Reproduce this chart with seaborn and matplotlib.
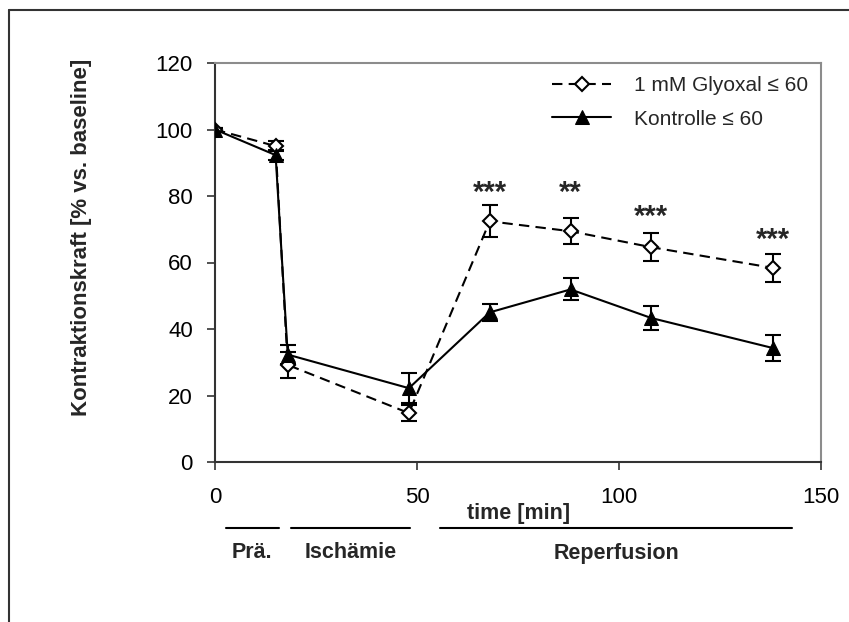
import numpy as np
import pandas as pd
import matplotlib
matplotlib.use("Agg")
import matplotlib.pyplot as plt
import matplotlib.transforms as mtransforms
from matplotlib.lines import Line2D
import seaborn as sns

# ---------------- data ----------------
time_min = [0, 15, 18, 48, 68, 88, 108, 138]
glyoxal = [100, 95.0, 29.2, 14.7, 72.4, 69.4, 64.6, 58.4]
glyoxal_err = [0.5, 1.6, 3.8, 2.5, 4.8, 3.9, 4.2, 4.2]
kontrolle = [100, 92.3, 32.3, 22.2, 45.0, 51.9, 43.3, 34.3]
kontrolle_err = [0.5, 1.5, 2.8, 4.5, 2.6, 3.3, 3.7, 3.8]

series_labels = ["1 mM Glyoxal \u2264 60", "Kontrolle \u2264 60"]

sig_times = [68, 88, 108, 138]
sig_labels = ["***", "**", "***", "***"]
sig_y = [81.0, 81.0, 73.8, 66.7]

phase_labels = ["Pr\u00e4.", "Isch\u00e4mie", "Reperfusion"]
phase_start = [2.7, 18.8, 55.8]
phase_end = [15.8, 48.2, 142.8]

x_ticks = [0, 50, 100, 150]
y_ticks = [0, 20, 40, 60, 80, 100, 120]

# ---------------- style ----------------
sns.set_theme(style="white")
plt.rcParams["font.family"] = ["Liberation Sans", "DejaVu Sans"]

W, H = 849, 622
fig = plt.figure(figsize=(W / 100, H / 100), dpi=100)
fig.patch.set_facecolor("white")

ax_l, ax_r, ax_t, ax_b = 215, 821, 63, 462
ax = fig.add_axes([ax_l / W, 1 - ax_b / H, (ax_r - ax_l) / W, (ax_b - ax_t) / H])
ax.set_facecolor("white")

df_g = pd.DataFrame({"time": time_min, "value": glyoxal})
df_k = pd.DataFrame({"time": time_min, "value": kontrolle})

lw = 1.5
# error bars (below markers)
ax.errorbar(time_min, glyoxal, yerr=glyoxal_err, fmt="none", ecolor="black",
            elinewidth=lw, capsize=5.5, capthick=lw, zorder=2)
ax.errorbar(time_min, kontrolle, yerr=kontrolle_err, fmt="none", ecolor="black",
            elinewidth=lw, capsize=5.5, capthick=lw, zorder=2)

sns.lineplot(data=df_g, x="time", y="value", ax=ax, color="black", linewidth=lw,
             linestyle=(0, (5, 3)), marker="D", markersize=7,
             markerfacecolor="white", markeredgecolor="black", markeredgewidth=1.5,
             label=series_labels[0], zorder=3)
sns.lineplot(data=df_k, x="time", y="value", ax=ax, color="black", linewidth=lw,
             linestyle="-", marker="^", markersize=10,
             markerfacecolor="black", markeredgecolor="black",
             label=series_labels[1], zorder=4)

ax.set_xlim(0, 150)
ax.set_ylim(0, 120)
ax.set_xticks(x_ticks)
ax.set_yticks(y_ticks)
ax.set_xlabel("")
ax.set_ylabel("")
ax.tick_params(axis="both", which="major", direction="out", length=6, width=1.2,
               color="#333333", labelsize=16, labelcolor="black", bottom=True, left=True)
ax.tick_params(axis="x", pad=12)
ax.tick_params(axis="y", pad=10)

for side in ["left", "bottom"]:
    ax.spines[side].set_color("#333333")
    ax.spines[side].set_linewidth(1.5)
for side in ["top", "right"]:
    ax.spines[side].set_color("#8c8c8c")
    ax.spines[side].set_linewidth(1.5)
ax.grid(False)

# significance stars
for t, lab, y in zip(sig_times, sig_labels, sig_y):
    ax.text(t, y, lab, ha="center", va="center", fontsize=21, fontweight="bold")

# legend
leg = ax.legend(loc="upper left", bbox_to_anchor=((552 - ax_l) / (ax_r - ax_l), (ax_b - 76) / (ax_b - ax_t)),
                borderaxespad=0, borderpad=0, frameon=False, fontsize=15,
                handlelength=2.85, handletextpad=1.1, labelspacing=0.7)

# y label
fig.text(82 / W, 1 - 237 / H, "Kontraktionskraft [% vs. baseline]", rotation=90,
         ha="center", va="center", fontsize=16, fontweight="bold")

# x label
fig.text(519 / W, 1 - 513 / H, "time [min]", ha="center", va="center",
         fontsize=15.5, fontweight="bold")

# phase bars
blend = mtransforms.blended_transform_factory(ax.transData, fig.transFigure)
for lab, s, e in zip(phase_labels, phase_start, phase_end):
    fig.add_artist(Line2D([s, e], [1 - 528 / H, 1 - 528 / H], transform=blend,
                          color="black", linewidth=1.5))
    fig.text((s + e) / 2, 1 - 553 / H, lab, transform=blend, ha="center", va="center",
             fontsize=15.5, fontweight="bold")

# figure frame (left and top edges visible)
fig.add_artist(Line2D([9 / W, 9 / W], [0, 1 - 10 / H], transform=fig.transFigure,
                      color="#333333", linewidth=1.5))
fig.add_artist(Line2D([9 / W, 1], [1 - 10 / H, 1 - 10 / H], transform=fig.transFigure,
                      color="#333333", linewidth=1.5))

fig.savefig("out.png", dpi=100, facecolor="white")
